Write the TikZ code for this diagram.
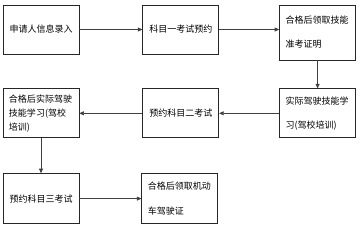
\documentclass[tikz,border=0pt]{standalone}
\usepackage{fontspec}
\newfontfamily\cjk{Noto Sans CJK SC}
\usetikzlibrary{positioning,arrows.meta}

\begin{document}
\begin{tikzpicture}[
  x=1pt, y=-1pt,
  every node/.style={font=\cjk\fontsize{9pt}{14pt}\selectfont, align=center},
  stage/.style={draw=black!85, line width=0.8pt, minimum width=76pt, minimum height=49pt, inner sep=0pt, fill=white},
  leftnote/.style={stage, text width=64pt, inner xsep=6pt, align=left},
  arr/.style={-{Triangle[length=4.5pt, width=4pt]}, line width=0.6pt, draw=black!75}
]
\useasboundingbox (0,0) rectangle (363,225);
% first row
\node[stage] (apply) at (41,29.5) {申请人信息录入};
\node[stage, right=63pt of apply] (exam1) {科目一考试预约};
\node[leftnote, minimum height=55pt, right=60pt of exam1.north east, anchor=north west] (permit) {合格后领取技能\\[10pt]准考证明};
% second row
\node[leftnote, below=28pt of permit] (train) {实际驾驶技能学\\[10pt]习(驾校培训)};
\node[stage, left=60pt of train] (exam2) {预约科目二考试};
\node[leftnote, left=63pt of exam2] (learn) {合格后实际驾驶\\技能学习(驾校\\培训)};
% third row
\node[stage, minimum height=50pt, below=35pt of learn] (exam3) {预约科目三考试};
\node[leftnote, minimum height=50pt, right=62pt of exam3] (license) {合格后领取机动\\[11pt]车驾驶证};

\draw[arr] (apply) -- (exam1);
\draw[arr] (exam1.east) -- (exam1.east -| permit.west);
\draw[arr] (permit) -- (train);
\draw[arr] (train) -- (exam2);
\draw[arr] (exam2) -- (learn);
\draw[arr] (learn) -- (exam3);
\draw[arr] (exam3) -- (license);
\end{tikzpicture}
\end{document}
